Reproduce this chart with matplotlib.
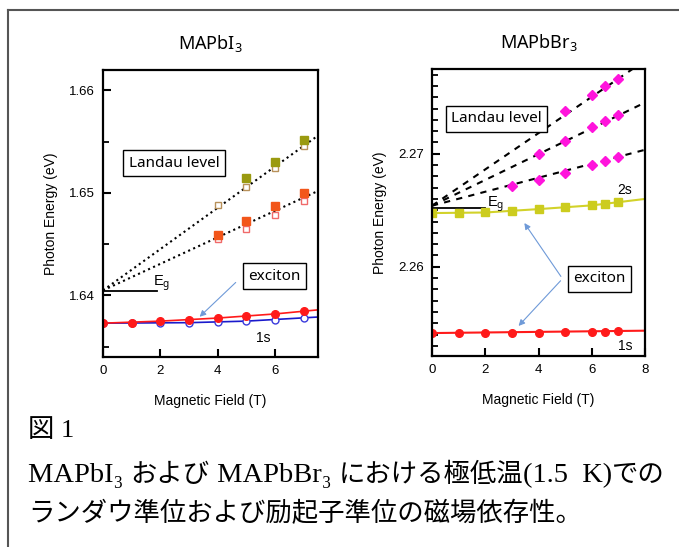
import matplotlib
matplotlib.use("Agg")
import matplotlib.pyplot as plt
from matplotlib.lines import Line2D
from matplotlib.ticker import MultipleLocator

plt.rcParams['font.family'] = ['Liberation Sans', 'DejaVu Sans']
plt.rcParams['mathtext.fontset'] = 'custom'
plt.rcParams['mathtext.rm'] = 'Noto Sans'
plt.rcParams['mathtext.it'] = 'Noto Sans:italic'

# ---------------- data: MAPbI3 ----------------
I_field = [0, 1, 2, 3, 4, 5, 6, 7]
I_ex_sigma_plus = [1.6373, 1.6373, 1.6375, 1.6376, 1.6378, 1.6380, 1.6382, 1.6385]
I_ex_sigma_minus = [1.6373, 1.6373, 1.6373, 1.6373, 1.6374, 1.6375, 1.6376, 1.6378]
I_fit_red_x = [0, 2, 4, 6, 7.5]
I_fit_red_y = [1.6373, 1.6375, 1.6378, 1.6382, 1.6386]
I_fit_blue_x = [0, 3, 5, 7.5]
I_fit_blue_y = [1.6373, 1.63735, 1.6375, 1.6379]

I_LL_field_up = [5, 6, 7]
I_LL_up_filled = [1.6515, 1.6530, 1.6552]
I_LL_field_up_open = [4, 5, 6, 7]
I_LL_up_open = [1.6488, 1.6506, 1.6524, 1.6546]
I_LL_field_low = [4, 5, 6, 7]
I_LL_low_filled = [1.6459, 1.6473, 1.6487, 1.6500]
I_LL_low_open = [1.6455, 1.6465, 1.6479, 1.6492]
I_LL_line_x = [0, 7.5]
I_LL_line_up = [1.6405, 1.6556]
I_LL_line_low = [1.6405, 1.6502]
I_Eg_x = [0, 1.87]
I_Eg_y = [1.6404, 1.6404]

# ---------------- data: MAPbBr3 ----------------
B_field = [0, 1, 2, 3, 4, 5, 6, 6.5, 7]
B_1s = [2.25413, 2.25413, 2.25413, 2.25413, 2.25415, 2.25418, 2.25422, 2.25425, 2.25427]
B_2s = [2.26475, 2.26475, 2.26481, 2.26496, 2.26510, 2.26528, 2.26543, 2.26558, 2.26573]
B_fit_1s_x = [0, 8]
B_fit_1s_y = [2.25413, 2.25434]
B_fit_2s_x = [0, 2, 4, 6, 8]
B_fit_2s_y = [2.26475, 2.26480, 2.26510, 2.26543, 2.26600]

B_LL1_field = [3, 4, 5, 6, 6.5, 7]
B_LL1 = [2.26711, 2.26767, 2.26832, 2.26903, 2.26938, 2.26973]
B_LL2_field = [4, 5, 6, 6.5, 7]
B_LL2 = [2.26994, 2.27109, 2.27233, 2.27286, 2.27339]
B_LL3_field = [5, 6, 6.5, 7]
B_LL3 = [2.27374, 2.27522, 2.27602, 2.27664]
B_LL_line_x = [0, 8]
B_LL_line1 = [2.2654, 2.27035]
B_LL_line2 = [2.2654, 2.27453]
B_LL_line3 = [2.2654, 2.27825]
B_Eg_x = [0, 2.0]
B_Eg_y = [2.26519, 2.26519]

# caption pieces (text, is_latin)
caption_title = '図 1'
caption_line2 = [('MAPbI₃ ', True), ('および', False), (' MAPbBr₃ ', True),
                 ('における極低温', False), ('(1.5  K)', True), ('での', False)]
caption_line3 = 'ランダウ準位および励起子準位の磁場依存性。'

W, H = 679, 547
fig = plt.figure(figsize=(W / 100, H / 100), dpi=100)

# outer frame
fig.add_artist(Line2D([8 / W, 8 / W], [0, 1 - 10 / H], color='#555555', lw=1.5))
fig.add_artist(Line2D([8 / W, 1], [1 - 10 / H, 1 - 10 / H], color='#555555', lw=1.5))

ax1 = fig.add_axes([103 / W, 1 - 357 / H, 215 / W, 287 / H])
ax2 = fig.add_axes([432 / W, 1 - 356 / H, 213 / W, 287 / H])

for ax in (ax1, ax2):
    for s in ax.spines.values():
        s.set_linewidth(1.6)
    ax.tick_params(direction='in', which='major', length=6, width=1.5, labelsize=9.5,
                   top=False, right=False, pad=6)
    ax.tick_params(direction='in', which='minor', length=4, width=1.3, top=False, right=False)
    ax.set_xlabel('Magnetic Field (T)', fontsize=10, labelpad=12)
    ax.set_ylabel('Photon Energy (eV)', fontsize=10, labelpad=8)

box = dict(boxstyle='square,pad=0.35', fc='white', ec='black', lw=1)
arrow = dict(arrowstyle='-|>', color='#6f9ad8', lw=0.8, mutation_scale=9)

# ---------- left panel ----------
ax1.set_xlim(0, 7.5)
ax1.set_ylim(1.6340, 1.6620)
ax1.set_xticks([0, 2, 4, 6])
ax1.set_yticks([1.64, 1.65, 1.66])
ax1.set_yticklabels(['1.64', '1.65', '1.66'])
ax1.yaxis.set_minor_locator(MultipleLocator(0.005))
ax1.set_title('MAPbI$_3$', fontsize=13, family='Noto Sans', pad=15)

ax1.plot(I_LL_line_x, I_LL_line_up, ':', color='black', lw=1.5)
ax1.plot(I_LL_line_x, I_LL_line_low, ':', color='black', lw=1.5)
ax1.plot(I_Eg_x, I_Eg_y, '-', color='black', lw=1.3)
ax1.plot(I_fit_blue_x, I_fit_blue_y, '-', color='#1a1acc', lw=1.2)
ax1.plot(I_fit_red_x, I_fit_red_y, '-', color='#ff1a1a', lw=1.2)
ax1.plot(I_field, I_ex_sigma_minus, 'o', mfc='white', mec='#3a3adc', ms=5, mew=1)
ax1.plot(I_field, I_ex_sigma_plus, 'o', color='#ff1a1a', ms=5.5)
ax1.plot(I_LL_field_up_open, I_LL_up_open, 's', mfc='white', mec='#b8915a', ms=5, mew=1)
ax1.plot(I_LL_field_up, I_LL_up_filled, 's', color='#9a9a10', ms=5.5)
ax1.plot(I_LL_field_low, I_LL_low_open, 's', mfc='white', mec='#f06a6a', ms=5, mew=1)
ax1.plot(I_LL_field_low, I_LL_low_filled, 's', color='#f2561a', ms=5.5)

ax1.text(2.48, 1.6529, 'Landau level', family='Noto Sans', fontsize=11,
         ha='center', va='center', bbox=box)
ax1.annotate('', xy=(3.30, 1.63774), xytext=(4.70, 1.64146), arrowprops=arrow)
ax1.text(5.98, 1.6419, 'exciton', family='Noto Sans', fontsize=11,
         ha='center', va='center', bbox=box)
ax1.text(1.75, 1.6412, r'E$_\mathrm{g}$', fontsize=10.5, ha='left', va='center')
ax1.text(5.58, 1.6359, '1s', fontsize=10, ha='center', va='center')

# ---------- right panel ----------
ax2.set_xlim(0, 8)
ax2.set_ylim(2.2521, 2.2775)
ax2.set_xticks([0, 2, 4, 6, 8])
ax2.set_yticks([2.26, 2.27])
ax2.set_yticklabels(['2.26', '2.27'])
ax2.yaxis.set_minor_locator(MultipleLocator(0.001))
ax2.set_title('MAPbBr$_3$', fontsize=13, family='Noto Sans', pad=15)

for ly in (B_LL_line1, B_LL_line2, B_LL_line3):
    ax2.plot(B_LL_line_x, ly, '--', color='black', lw=1.5, dashes=(3, 3))
ax2.plot(B_Eg_x, B_Eg_y, '-', color='black', lw=1.3)
ax2.plot(B_fit_2s_x, B_fit_2s_y, '-', color='#d2d22a', lw=1.5)
ax2.plot(B_fit_1s_x, B_fit_1s_y, '-', color='#ff1a1a', lw=1.5)
ax2.plot(B_field, B_2s, 's', color='#cccc1e', ms=5.5)
ax2.plot(B_field, B_1s, 'o', color='#ff1a1a', ms=5.5)
for fx, fy in ((B_LL1_field, B_LL1), (B_LL2_field, B_LL2), (B_LL3_field, B_LL3)):
    ax2.plot(fx, fy, 'D', color='#ff14dc', ms=5)

ax2.text(2.42, 2.2731, 'Landau level', family='Noto Sans', fontsize=11,
         ha='center', va='center', bbox=box)
ax2.annotate('', xy=(3.41, 2.26407), xytext=(4.90, 2.25894), arrowprops=arrow)
ax2.annotate('', xy=(3.18, 2.25458), xytext=(4.90, 2.25894), arrowprops=arrow)
ax2.text(6.30, 2.25894, 'exciton', family='Noto Sans', fontsize=11,
         ha='center', va='center', bbox=box)
ax2.text(2.05, 2.2655, r'E$_\mathrm{g}$', fontsize=10.5, ha='left', va='center')
ax2.text(7.25, 2.26675, '2s', fontsize=10, ha='center', va='center')
ax2.text(7.25, 2.25295, '1s', fontsize=10, ha='center', va='center')

# ---------- caption ----------
cap = ['Liberation Serif', 'Noto Sans CJK JP']
cjk_size, latin_size = 19, 20.5
fig.text(28 / W, 1 - 437 / H, caption_title, family=cap, fontsize=cjk_size, va='baseline')
fig.text(28 / W, 1 - 521 / H, caption_line3, family=cap, fontsize=cjk_size, va='baseline')

renderer = fig.canvas.get_renderer()
xpix = 28.0
for txt, latin in caption_line2:
    t = fig.text(xpix / W, 1 - 482 / H, txt, family=cap,
                 fontsize=latin_size if latin else cjk_size, va='baseline')
    bb = t.get_window_extent(renderer=renderer)
    xpix += bb.width

fig.savefig('out.png', dpi=100)
